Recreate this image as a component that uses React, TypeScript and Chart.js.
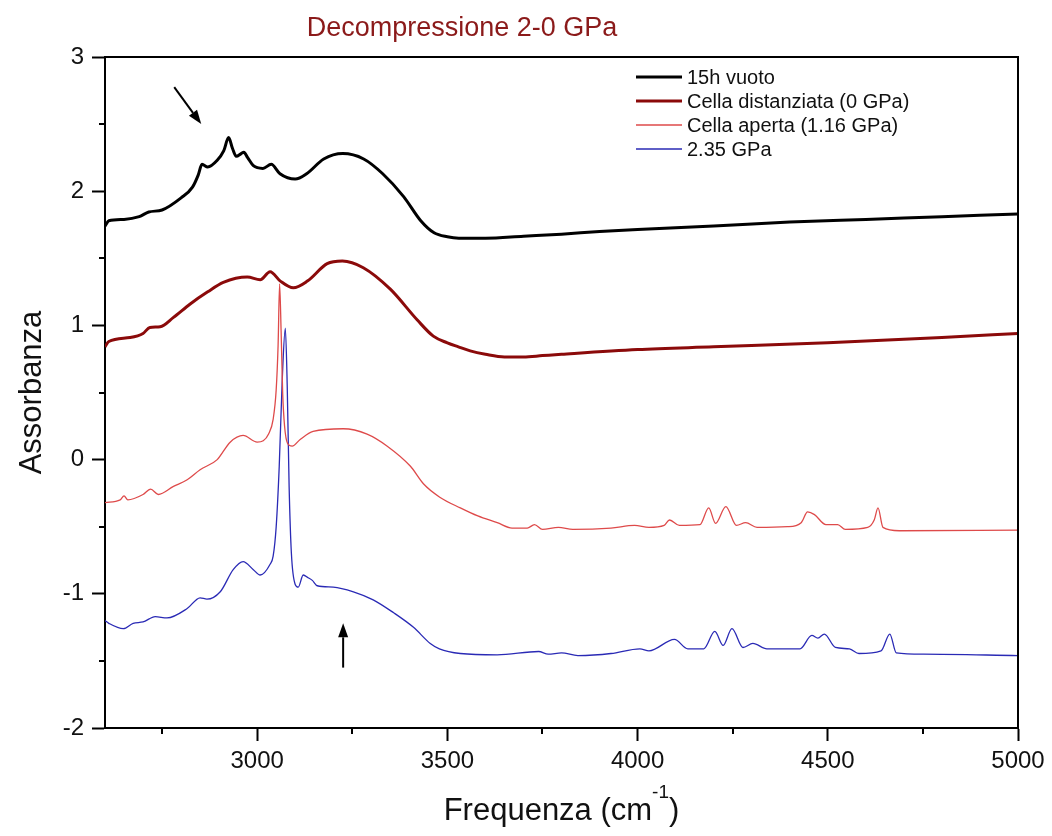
import React, { useEffect, useRef } from 'react';
import { Chart, registerables } from 'chart.js';

Chart.register(...registerables);

const FONT = '"Liberation Sans", Arial, Helvetica, sans-serif';

const TITLE = 'Decompressione 2-0 GPa';
const X_TITLE_MAIN = 'Frequenza (cm';
const X_TITLE_SUP = '-1';
const X_TITLE_END = ')';
const Y_TITLE = 'Assorbanza';

const X_TICKS = [3000, 3500, 4000, 4500, 5000];
const X_MINOR = [2750, 3250, 3750, 4250, 4750];
const Y_TICKS = [-2, -1, 0, 1, 2, 3];
const Y_MINOR = [-1.5, -0.5, 0.5, 1.5, 2.5];

const LABELS = ['15h vuoto', 'Cella distanziata (0 GPa)', 'Cella aperta (1.16 GPa)', '2.35 GPa'];
const COLORS = ['#000000', '#8b0a0a', '#de4a4a', '#2a2ab5'];
const WIDTHS = [3, 3, 1.3, 1.3];

const X_VUOTO = [2600, 2610, 2650, 2690, 2715, 2750, 2800, 2830, 2845, 2855, 2870, 2895, 2912, 2925, 2935, 2945, 2958, 2965, 2975, 2990, 3015, 3037, 3060, 3100, 3130, 3175, 3225, 3280, 3330, 3385, 3430, 3465, 3500, 3530, 3600, 3700, 3800, 3900, 4000, 4200, 4400, 4600, 4800, 5000];
const Y_VUOTO = [1.74, 1.78, 1.79, 1.81, 1.845, 1.86, 1.95, 2.03, 2.12, 2.20, 2.18, 2.23, 2.30, 2.40, 2.32, 2.26, 2.28, 2.29, 2.25, 2.19, 2.17, 2.20, 2.13, 2.09, 2.13, 2.24, 2.28, 2.24, 2.13, 1.96, 1.78, 1.69, 1.66, 1.65, 1.65, 1.665, 1.68, 1.70, 1.715, 1.74, 1.77, 1.79, 1.81, 1.83];

const X_DIST = [2600, 2610, 2666, 2700, 2718, 2745, 2780, 2824, 2870, 2911, 2974, 3008, 3034, 3061, 3095, 3132, 3184, 3224, 3279, 3350, 3421, 3463, 3500, 3529, 3560, 3600, 3650, 3700, 3750, 3800, 4000, 4200, 4500, 4800, 5000];
const Y_DIST = [0.84, 0.88, 0.91, 0.94, 0.985, 0.99, 1.06, 1.16, 1.25, 1.32, 1.36, 1.34, 1.40, 1.33, 1.28, 1.33, 1.46, 1.48, 1.43, 1.27, 1.04, 0.92, 0.87, 0.84, 0.81, 0.785, 0.765, 0.765, 0.775, 0.785, 0.82, 0.84, 0.87, 0.91, 0.94];

const X_APERTA = [2600, 2640, 2650, 2660, 2700, 2720, 2740, 2780, 2816, 2850, 2895, 2929, 2963, 3000, 3016, 3030, 3042, 3050, 3055, 3059, 3063, 3067, 3072, 3080, 3092, 3113, 3147, 3226, 3289, 3342, 3403, 3437, 3480, 3534, 3580, 3631, 3670, 3710, 3729, 3750, 3792, 3830, 3930, 3992, 4030, 4070, 4084, 4110, 4164, 4187, 4205, 4232, 4260, 4284, 4314, 4394, 4430, 4447, 4465, 4495, 4526, 4546, 4605, 4622, 4632, 4645, 4688, 5000];
const Y_APERTA = [-0.32, -0.30, -0.27, -0.30, -0.26, -0.22, -0.26, -0.20, -0.15, -0.075, 0.0, 0.13, 0.18, 0.13, 0.14, 0.19, 0.30, 0.52, 0.85, 1.31, 0.95, 0.50, 0.25, 0.12, 0.10, 0.15, 0.21, 0.23, 0.19, 0.10, -0.05, -0.18, -0.28, -0.36, -0.42, -0.47, -0.51, -0.51, -0.485, -0.52, -0.505, -0.52, -0.51, -0.49, -0.505, -0.49, -0.45, -0.49, -0.485, -0.36, -0.475, -0.35, -0.49, -0.47, -0.505, -0.50, -0.47, -0.39, -0.41, -0.485, -0.485, -0.52, -0.505, -0.45, -0.36, -0.505, -0.53, -0.525];

const X_GPA = [2600, 2610, 2648, 2674, 2700, 2732, 2763, 2816, 2850, 2868, 2903, 2937, 2963, 2990, 3008, 3034, 3042, 3050, 3058, 3066, 3074, 3079, 3084, 3090, 3100, 3108, 3121, 3134, 3145, 3158, 3200, 3253, 3305, 3358, 3411, 3455, 3479, 3534, 3631, 3740, 3765, 3800, 3843, 3930, 4006, 4030, 4097, 4132, 4174, 4203, 4225, 4248, 4277, 4303, 4340, 4427, 4458, 4474, 4491, 4520, 4557, 4582, 4640, 4663, 4680, 4751, 5000];
const Y_GPA = [-1.20, -1.22, -1.26, -1.22, -1.21, -1.17, -1.18, -1.11, -1.03, -1.04, -0.985, -0.82, -0.76, -0.82, -0.86, -0.78, -0.72, -0.50, -0.05, 0.60, 0.98, 0.55, -0.20, -0.70, -0.93, -0.95, -0.86, -0.88, -0.90, -0.94, -0.95, -0.985, -1.045, -1.14, -1.25, -1.37, -1.41, -1.445, -1.455, -1.43, -1.45, -1.44, -1.46, -1.445, -1.41, -1.425, -1.34, -1.41, -1.41, -1.28, -1.385, -1.26, -1.40, -1.37, -1.41, -1.41, -1.31, -1.33, -1.30, -1.40, -1.41, -1.445, -1.425, -1.30, -1.44, -1.45, -1.46];

// arrows: [x0, y0, x1(tip), y1(tip)] in data units
const ARROWS = [
  [2782, 2.776, 2853, 2.5],
  [3226, -1.55, 3226, -1.22],
];

const SERIES_X = [X_VUOTO, X_DIST, X_APERTA, X_GPA];
const SERIES_Y = [Y_VUOTO, Y_DIST, Y_APERTA, Y_GPA];

const decor = {
  id: 'decor',
  afterDraw(chart: any) {
    const { ctx, chartArea: a, scales } = chart;
    const sx = scales.x;
    const sy = scales.y;
    ctx.save();
    ctx.strokeStyle = '#000';
    ctx.lineWidth = 2;
    // frame top / right
    ctx.beginPath();
    ctx.moveTo(a.left - 1, a.top);
    ctx.lineTo(a.right, a.top);
    ctx.lineTo(a.right, a.bottom + 1);
    ctx.stroke();
    // minor ticks
    ctx.beginPath();
    X_MINOR.forEach((v) => {
      const px = Math.round(sx.getPixelForValue(v));
      ctx.moveTo(px, a.bottom);
      ctx.lineTo(px, a.bottom + 6);
    });
    Y_MINOR.forEach((v) => {
      const py = Math.round(sy.getPixelForValue(v));
      ctx.moveTo(a.left, py);
      ctx.lineTo(a.left - 6, py);
    });
    ctx.stroke();

    // arrows
    ARROWS.forEach(([x0, y0, x1, y1]) => {
      const p0x = sx.getPixelForValue(x0);
      const p0y = sy.getPixelForValue(y0);
      const p1x = sx.getPixelForValue(x1);
      const p1y = sy.getPixelForValue(y1);
      const ang = Math.atan2(p1y - p0y, p1x - p0x);
      const hl = 14;
      const hw = 5;
      const bx = p1x - hl * Math.cos(ang);
      const by = p1y - hl * Math.sin(ang);
      ctx.lineWidth = 2;
      ctx.beginPath();
      ctx.moveTo(p0x, p0y);
      ctx.lineTo(bx, by);
      ctx.stroke();
      ctx.fillStyle = '#000';
      ctx.beginPath();
      ctx.moveTo(p1x, p1y);
      ctx.lineTo(bx + hw * Math.sin(ang), by - hw * Math.cos(ang));
      ctx.lineTo(bx - hw * Math.sin(ang), by + hw * Math.cos(ang));
      ctx.closePath();
      ctx.fill();
    });

    // legend
    const ds = chart.data.datasets;
    const lx0 = 636;
    const lx1 = 682;
    const rows = [77, 101, 125, 149];
    ctx.font = `20px ${FONT}`;
    ctx.textBaseline = 'middle';
    ctx.textAlign = 'left';
    ds.forEach((d: any, i: number) => {
      ctx.strokeStyle = d.borderColor;
      ctx.lineWidth = d.borderWidth;
      ctx.beginPath();
      ctx.moveTo(lx0, rows[i]);
      ctx.lineTo(lx1, rows[i]);
      ctx.stroke();
      ctx.fillStyle = '#111';
      ctx.fillText(d.label, 687, rows[i] + 1);
    });

    // title
    ctx.fillStyle = '#8b1a1a';
    ctx.font = `27px ${FONT}`;
    ctx.textAlign = 'center';
    ctx.textBaseline = 'middle';
    ctx.fillText(TITLE, 462, 29);

    // y title
    ctx.save();
    ctx.translate(32, (a.top + a.bottom) / 2);
    ctx.rotate(-Math.PI / 2);
    ctx.fillStyle = '#111';
    ctx.font = `31px ${FONT}`;
    ctx.textAlign = 'center';
    ctx.textBaseline = 'middle';
    ctx.fillText(Y_TITLE, 0, 0);
    ctx.restore();

    // x title with superscript
    ctx.fillStyle = '#111';
    ctx.textBaseline = 'alphabetic';
    ctx.textAlign = 'left';
    ctx.font = `31px ${FONT}`;
    const w1 = ctx.measureText(X_TITLE_MAIN).width;
    const w3 = ctx.measureText(X_TITLE_END).width;
    ctx.font = `19px ${FONT}`;
    const w2 = ctx.measureText(X_TITLE_SUP).width;
    const total = w1 + w2 + w3;
    const cx = (a.left + a.right) / 2;
    let xx = cx - total / 2;
    const base = 820;
    ctx.font = `31px ${FONT}`;
    ctx.fillText(X_TITLE_MAIN, xx, base);
    xx += w1;
    ctx.font = `19px ${FONT}`;
    ctx.fillText(X_TITLE_SUP, xx, base - 22);
    xx += w2;
    ctx.font = `31px ${FONT}`;
    ctx.fillText(X_TITLE_END, xx, base);
    ctx.restore();
  },
};

export default function App() {
  const ref = useRef<HTMLCanvasElement | null>(null);
  useEffect(() => {
    document.body.style.margin = '0';
    const canvas = ref.current;
    if (!canvas) return;
    const chart = new Chart(canvas, {
      type: 'line',
      data: {
        datasets: LABELS.map((label, i) => ({
          label,
          data: SERIES_X[i].map((x, j) => ({ x, y: SERIES_Y[i][j] })),
          borderColor: COLORS[i],
          backgroundColor: COLORS[i],
          borderWidth: WIDTHS[i],
          pointRadius: 0,
          cubicInterpolationMode: 'monotone' as const,
          fill: false,
        })),
      },
      options: {
        animation: false,
        responsive: true,
        maintainAspectRatio: false,
        layout: { padding: { top: 57, right: 34, left: 0, bottom: 0 } },
        plugins: {
          legend: { display: false },
          title: { display: false },
          tooltip: { enabled: false },
        },
        scales: {
          x: {
            type: 'linear',
            min: 2600,
            max: 5000,
            afterBuildTicks: (s: any) => {
              s.ticks = X_TICKS.map((v) => ({ value: v }));
            },
            afterFit: (s: any) => {
              s.height = 108;
            },
            grid: {
              display: true,
              drawOnChartArea: false,
              drawTicks: true,
              tickLength: 13,
              tickWidth: 2,
              tickColor: '#000',
            },
            border: { display: true, width: 2, color: '#000' },
            ticks: {
              color: '#111',
              font: { family: FONT, size: 24 },
              padding: 6,
              maxRotation: 0,
              callback: (v: any) => String(v),
            },
          },
          y: {
            type: 'linear',
            min: -2,
            max: 3,
            afterBuildTicks: (s: any) => {
              s.ticks = Y_TICKS.map((v) => ({ value: v }));
            },
            afterFit: (s: any) => {
              s.width = 105;
            },
            grid: {
              display: true,
              drawOnChartArea: false,
              drawTicks: true,
              tickLength: 13,
              tickWidth: 2,
              tickColor: '#000',
            },
            border: { display: true, width: 2, color: '#000' },
            ticks: {
              color: '#111',
              font: { family: FONT, size: 24 },
              padding: 8,
              callback: (v: any) => String(v),
            },
          },
        },
      },
      plugins: [decor],
    });
    return () => chart.destroy();
  }, []);
  return (
    <div style={{ width: 1052, height: 836, position: 'relative', background: '#fff' }}>
      <canvas ref={ref} />
    </div>
  );
}
